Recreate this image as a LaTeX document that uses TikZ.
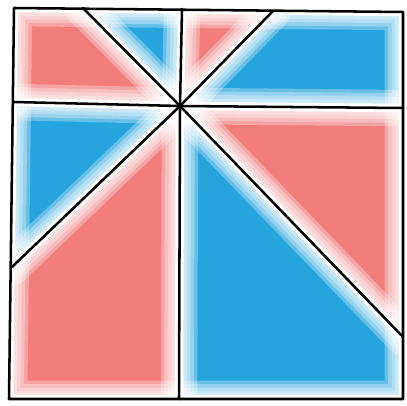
\documentclass[tikz,border=0pt]{standalone}
\usepackage{tikz}

\definecolor{chalkred}{RGB}{243,124,124}
\definecolor{chalkblue}{RGB}{38,164,222}

\begin{document}
\begin{tikzpicture}[x=0.025cm,y=-0.025cm,
    haze/.style={line width=#1, white, opacity=0.3, line cap=round, line join=round},
    gap/.style={line width=6pt, white, line cap=round, line join=round},
    ink/.style={line width=1.8pt, black, line cap=round, line join=round}]
  \useasboundingbox (0,0) rectangle (407,406);

  % frame corners and the centre point
  \coordinate (tl) at (14,8);
  \coordinate (tr) at (403,12);
  \coordinate (br) at (403,399);
  \coordinate (bl) at (9,399);
  \coordinate (c)  at (180,106);
  % where the rays meet the frame
  \coordinate (t1) at (83,8);
  \coordinate (t2) at (182,9);
  \coordinate (t3) at (273,11);
  \coordinate (r1) at (403,108);
  \coordinate (r2) at (403,337);
  \coordinate (b1) at (179,399);
  \coordinate (l1) at (12,267);
  \coordinate (l2) at (14,102);

  \fill[chalkred]  (tl) -- (t1) -- (c) -- (l2) -- cycle;
  \fill[chalkblue] (t1) -- (t2) -- (c) -- cycle;
  \fill[chalkred]  (t2) -- (t3) -- (c) -- cycle;
  \fill[chalkblue] (t3) -- (tr) -- (r1) -- (c) -- cycle;
  \fill[chalkred]  (r1) -- (r2) -- (c) -- cycle;
  \fill[chalkblue] (r2) -- (br) -- (b1) -- (c) -- cycle;
  \fill[chalkred]  (b1) -- (bl) -- (l1) -- (c) -- cycle;
  \fill[chalkblue] (l1) -- (l2) -- (c) -- cycle;

  % soft white margin along every line
  \foreach \w in {26pt,21pt,16pt,11pt} {
    \foreach \e in {t1,t2,t3,r1,r2,b1,l1,l2}
      \draw[haze=\w] (c) -- (\e);
    \draw[haze=\w] (tl) -- (tr) -- (br) -- (bl) -- cycle;
  }
  \foreach \e in {t1,t2,t3,r1,r2,b1,l1,l2}
    \draw[gap] (c) -- (\e);
  \draw[gap] (tl) -- (tr) -- (br) -- (bl) -- cycle;

  \foreach \e in {t1,t2,t3,r1,r2,b1,l1,l2}
    \draw[ink] (c) -- (\e);
  \draw[ink] (tl) -- (tr) -- (br) -- (bl) -- cycle;
\end{tikzpicture}
\end{document}
